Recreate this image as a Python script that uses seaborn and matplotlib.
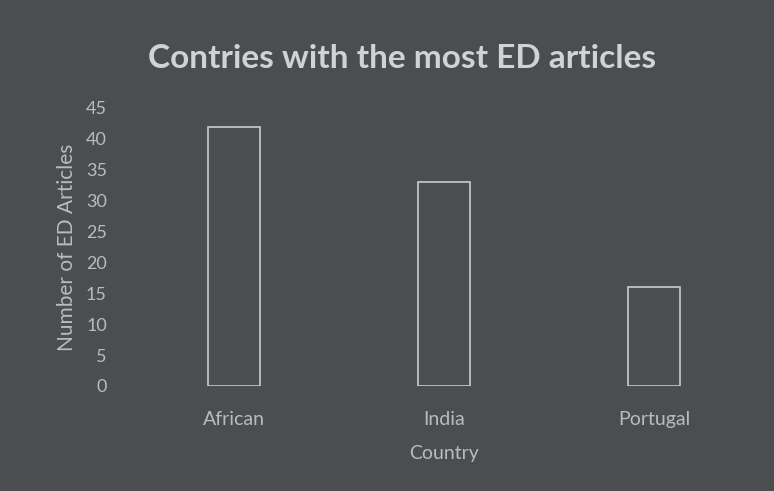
import pandas as pd
import matplotlib.pyplot as plt
import seaborn as sns

countries = ['African', 'India', 'Portugal']
articles = [42, 33, 16]
yticks = [0, 5, 10, 15, 20, 25, 30, 35, 40, 45]

df = pd.DataFrame({'Country': countries, 'Articles': articles})

bg = '#4b4e51'
fg = '#b9bcbf'

sns.set_theme(style='white')
plt.rcParams['font.family'] = ['Lato', 'DejaVu Sans']

fig = plt.figure(figsize=(7.74, 4.91), dpi=100, facecolor=bg)
ax = fig.add_axes([129 / 774, 1 - 386 / 491, 630 / 774, 278 / 491])
ax.set_facecolor(bg)

sns.barplot(data=df, x='Country', y='Articles', ax=ax, width=0.25,
            facecolor='none', edgecolor='#c8cbce', linewidth=1.2)

ax.set_ylim(0, 45)
ax.set_xlim(-0.5, 2.5)
ax.set_yticks(yticks)
ax.set_yticklabels([str(t) for t in yticks], color=fg, fontsize=13)
ax.tick_params(axis='x', colors=fg, labelsize=14, pad=18, length=0)
ax.tick_params(axis='y', colors=fg, length=0, pad=16)
for s in ax.spines.values():
    s.set_visible(False)

ax.set_xlabel('Country', color=fg, fontsize=14, labelpad=12)
ax.set_ylabel('Number of ED Articles', color=fg, fontsize=15, labelpad=6)

fig.text(402 / 774, 1 - 58 / 491, 'Contries with the most ED articles',
         ha='center', va='center', color='#d0d3d6', fontsize=24, fontweight='bold')

plt.savefig('out.png', dpi=100, facecolor=bg)
